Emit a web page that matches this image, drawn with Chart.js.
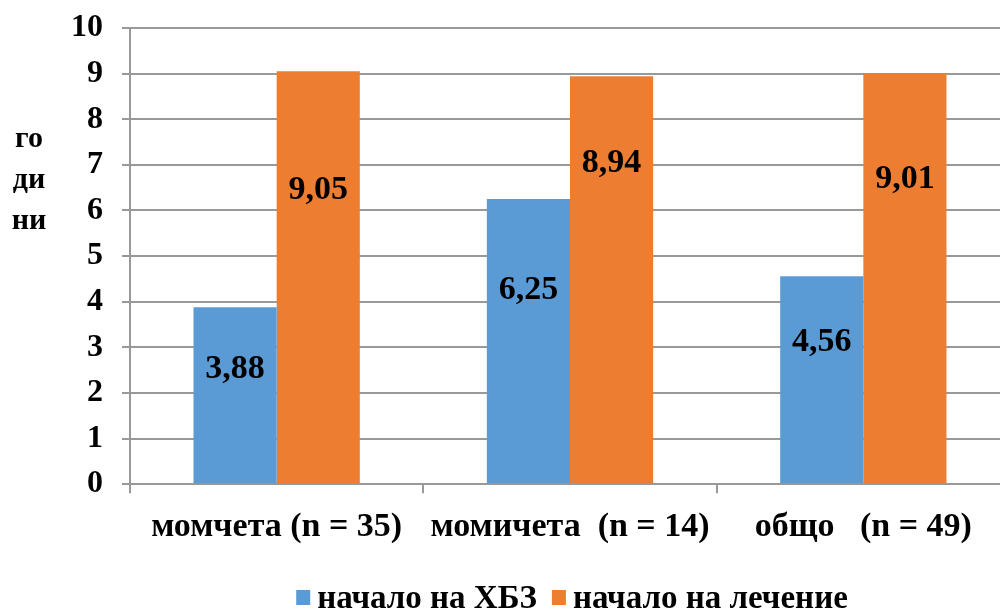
<!DOCTYPE html>
<html>
<head>
<meta charset="utf-8">
<script src="https://cdn.jsdelivr.net/npm/chart.js@4/dist/chart.umd.min.js"></script>
<style>
  html, body { margin: 0; padding: 0; background: #fff; overflow: hidden; }
  #wrap { width: 1010px; height: 612px; position: relative; }
</style>
</head>
<body>
<div id="wrap"><canvas id="c"></canvas></div>
<script>
// Age (years) at onset of the disease and at start of treatment
const categories = ['момчета (n = 35)', 'момичета  (n = 14)', 'общо   (n = 49)'];
const onsetValues = [3.88, 6.25, 4.56];
const treatmentValues = [9.05, 8.94, 9.01];
const seriesNames = ['начало на ХБЗ', 'начало на лечение'];
const seriesColors = ['#5B9BD5', '#ED7D31'];
const yTitleLines = ['го', 'ди', 'ни'];

const SERIF = '"Liberation Serif", "Times New Roman", serif';

// Pins the top edge of the plot area after layout and re-derives the value scale
const plotTop = {
  id: 'plotTop',
  afterLayout(chart, args, opts) {
    try {
      const area = chart.chartArea;
      const y = chart.scales.y;
      const shift = area.top - opts.top;
      if (shift > 0 && y) {
        area.top -= shift;
        area.height += shift;
        y.top -= shift;
        y.height += shift;
        y.configure();
      }
    } catch (e) { /* keep default layout */ }
  }
};

// Value labels written inside each bar; baseline placed at a share of the bar height
const valueLabels = {
  id: 'valueLabels',
  afterDatasetsDraw(chart, args, opts) {
    const ctx = chart.ctx;
    const y = chart.scales.y;
    ctx.save();
    ctx.font = 'bold 34px ' + SERIF;
    ctx.fillStyle = '#000';
    ctx.textAlign = 'center';
    ctx.textBaseline = 'alphabetic';
    chart.data.datasets.forEach((ds, di) => {
      chart.getDatasetMeta(di).data.forEach((bar, i) => {
        const v = ds.data[i];
        const txt = v.toFixed(2).replace('.', ',');
        ctx.fillText(txt, bar.x, y.getPixelForValue(v * opts.anchor[di][i]));
      });
    });
    ctx.restore();
  }
};

// Vertical axis caption split over three short lines
const yCaption = {
  id: 'yCaption',
  afterDraw(chart) {
    const ctx = chart.ctx;
    ctx.save();
    ctx.font = 'bold 30px ' + SERIF;
    ctx.fillStyle = '#000';
    ctx.textAlign = 'center';
    ctx.textBaseline = 'middle';
    yTitleLines.forEach((t, i) => ctx.fillText(t, 29, 139 + i * 41));
    ctx.restore();
  }
};

// Legend row under the axis: small square swatch followed by the series name
const legendRow = {
  id: 'legendRow',
  afterDraw(chart, args, opts) {
    const ctx = chart.ctx;
    const box = 14, textGap = 7, itemGap = 15, cy = 598;
    ctx.save();
    ctx.font = 'bold 33px ' + SERIF;
    ctx.textBaseline = 'middle';
    ctx.textAlign = 'left';
    const widths = seriesNames.map(n => ctx.measureText(n).width);
    let total = 0;
    widths.forEach((w, i) => { total += box + textGap + w + (i ? itemGap : 0); });
    let x = opts.centerX - total / 2;
    seriesNames.forEach((n, i) => {
      ctx.fillStyle = seriesColors[i];
      ctx.fillRect(x, cy - box / 2 - 1, box, box + 1);
      ctx.fillStyle = '#000';
      ctx.fillText(n, x + box + textGap, cy + 1);
      x += box + textGap + widths[i] + itemGap;
    });
    ctx.restore();
  }
};

new Chart(document.getElementById('c'), {
  type: 'bar',
  data: {
    labels: categories,
    datasets: [
      { label: seriesNames[0], data: onsetValues, backgroundColor: seriesColors[0] },
      { label: seriesNames[1], data: treatmentValues, backgroundColor: seriesColors[1] }
    ]
  },
  options: {
    responsive: true,
    maintainAspectRatio: false,
    animation: false,
    layout: { autoPadding: false, padding: { top: 18, right: 0, left: 0, bottom: 50 } },
    datasets: { bar: { categoryPercentage: 0.567, barPercentage: 1 } },
    scales: {
      x: {
        grid: { display: true, drawOnChartArea: false, drawTicks: true, tickLength: 9, color: '#999', lineWidth: 2, offset: true },
        border: { display: false },
        ticks: { color: '#000', font: { family: SERIF, size: 34, weight: 'bold' }, padding: 14, maxRotation: 0, autoSkip: false }
      },
      y: {
        min: 0, max: 10,
        afterFit(scale) { scale.width = 130; },
        grid: { color: '#999', lineWidth: 2, tickLength: 8 },
        border: { display: true, color: '#999', width: 2 },
        ticks: { stepSize: 1, color: '#000', font: { family: SERIF, size: 32, weight: 'bold' }, padding: 19 }
      }
    },
    plugins: {
      legend: { display: false },
      tooltip: { enabled: false },
      plotTop: { top: 28 },
      valueLabels: { anchor: [[0.60, 0.65, 0.64], [0.69, 0.765, 0.72]] },
      legendRow: { centerX: 572 }
    }
  },
  plugins: [plotTop, valueLabels, yCaption, legendRow]
});
</script>
</body>
</html>
